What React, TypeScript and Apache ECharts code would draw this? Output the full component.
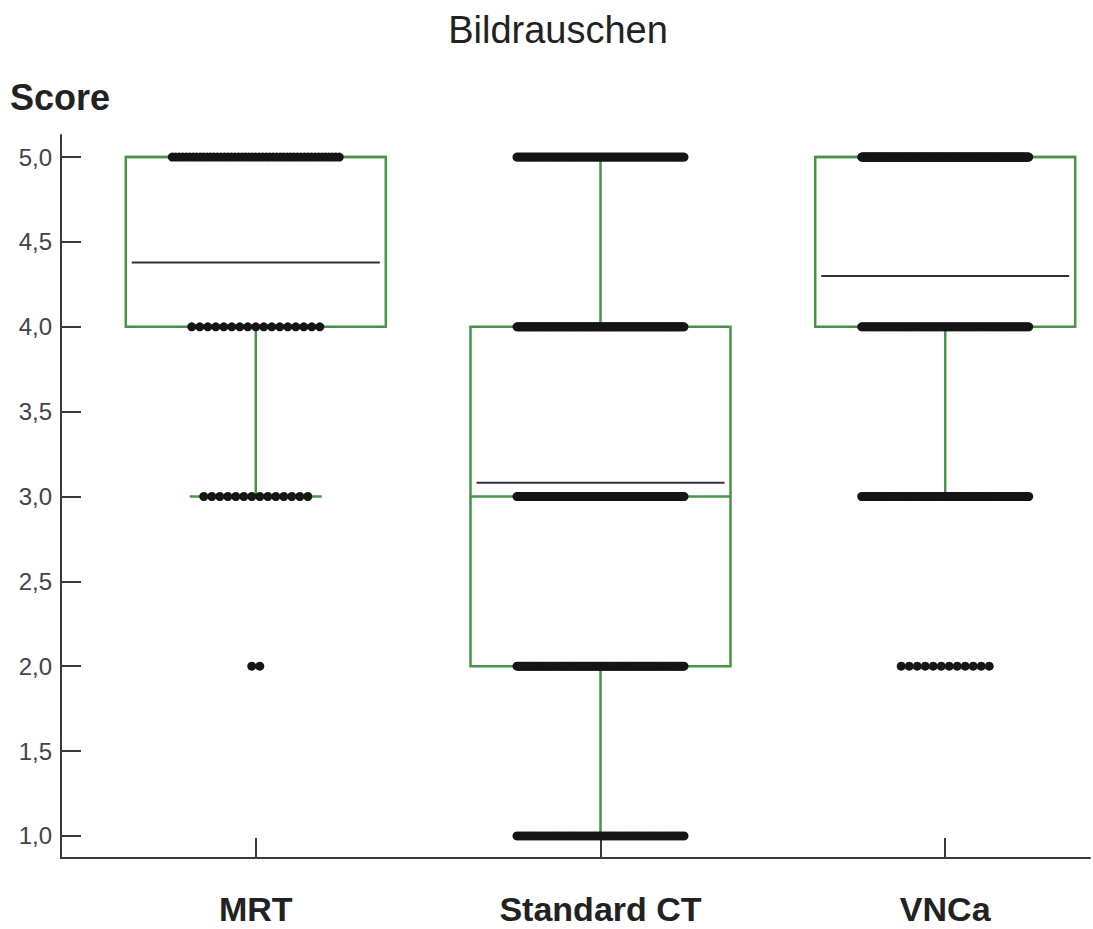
import React, { useEffect, useRef } from "react";
import * as echarts from "echarts";

// ---- data ----
const groups = ["MRT", "Standard CT", "VNCa"];
const scores = [1, 2, 3, 4, 5];
// number of ratings per score (1..5) for each group
const mrtCounts = [0, 2, 14, 17, 49];
const stdCtCounts = [72, 132, 120, 135, 93];
const vncaCounts = [0, 12, 90, 100, 249];
const yTicks = [1, 1.5, 2, 2.5, 3, 3.5, 4, 4.5, 5];
const chartTitle = "Bildrauschen";
const yTitle = "Score";

const allCounts = [mrtCounts, stdCtCounts, vncaCounts];

function expand(counts: number[]): number[] {
  const arr: number[] = [];
  counts.forEach((c, i) => {
    for (let k = 0; k < c; k++) arr.push(scores[i]);
  });
  return arr;
}
function quantile(sorted: number[], p: number): number {
  const pos = (sorted.length - 1) * p;
  const lo = Math.floor(pos);
  const hi = Math.ceil(pos);
  return sorted[lo] + (sorted[hi] - sorted[lo]) * (pos - lo);
}
function stats(counts: number[]) {
  const s = expand(counts);
  const q1 = quantile(s, 0.25);
  const med = quantile(s, 0.5);
  const q3 = quantile(s, 0.75);
  const iqr = q3 - q1;
  const lowF = q1 - 1.5 * iqr;
  const highF = q3 + 1.5 * iqr;
  const low = Math.min(...s.filter((v) => v >= lowF));
  const high = Math.max(...s.filter((v) => v <= highF));
  const mean = s.reduce((a, b) => a + b, 0) / s.length;
  return [low, q1, med, q3, high, mean];
}

const FONT = "'Liberation Sans', Arial, Helvetica, sans-serif";
const GREEN = "#489448";
const DARK = "#3a3a3a";

export default function App() {
  const ref = useRef<HTMLDivElement>(null);
  useEffect(() => {
    if (!ref.current) return;
    const chart = echarts.init(ref.current, undefined, { renderer: "svg" });

    const boxData = allCounts.map((c, i) => [i + 1, ...stats(c)]);
    const dotData: number[][] = [];
    allCounts.forEach((c, gi) => {
      c.forEach((n, si) => {
        if (n > 0) dotData.push([gi + 1, scores[si], n]);
      });
    });

    const BOX_HALF = 130;
    const CAP_HALF = 66;
    const MEAN_INSET = 6;
    const DOT_R = 4.5;
    const DOT_STEP = 8;
    const MAX_SPAN = 167;

    chart.setOption({
      animation: false,
      grid: { left: 61, right: 3, top: 135, bottom: 71 },
      graphic: [
        {
          type: "text",
          x: 558,
          y: 30,
          style: {
            text: chartTitle,
            font: `38px ${FONT}`,
            fill: "#222",
            textAlign: "center",
            textVerticalAlign: "middle",
          },
        },
        {
          type: "text",
          x: 10,
          y: 97,
          style: {
            text: yTitle,
            font: `bold 36px ${FONT}`,
            fill: "#222",
            textAlign: "left",
            textVerticalAlign: "middle",
          },
        },
      ],
      xAxis: {
        type: "value",
        min: 0.435,
        max: 3.42,
        splitLine: { show: false },
        axisLine: { show: true, lineStyle: { color: DARK, width: 2 } },
        axisTick: {
          show: true,
          inside: true,
          length: 20,
          customValues: [1, 2, 3],
          lineStyle: { color: DARK, width: 2 },
        },
        axisLabel: {
          customValues: [1, 2, 3],
          formatter: (v: number) => groups[Math.round(v) - 1] || "",
          fontFamily: FONT,
          fontWeight: "bold",
          fontSize: 34,
          lineHeight: 34,
          color: "#222",
          margin: 34,
        },
      },
      yAxis: {
        type: "value",
        min: 0.87,
        max: 5.13,
        splitLine: { show: false },
        axisLine: { show: true, lineStyle: { color: DARK, width: 2 } },
        axisTick: {
          show: true,
          inside: true,
          length: 20,
          customValues: yTicks,
          lineStyle: { color: DARK, width: 2 },
        },
        axisLabel: {
          customValues: yTicks,
          formatter: (v: number) => v.toFixed(1).replace(".", ","),
          fontFamily: FONT,
          fontSize: 24,
          color: "#444",
          margin: 9,
        },
      },
      series: [
        {
          type: "custom",
          name: "box",
          z: 2,
          data: boxData,
          renderItem: (params: any, api: any) => {
            const x = api.value(0);
            const low = api.value(1);
            const q1 = api.value(2);
            const med = api.value(3);
            const q3 = api.value(4);
            const high = api.value(5);
            const mean = api.value(6);
            const pQ1 = api.coord([x, q1]);
            const pQ3 = api.coord([x, q3]);
            const pMed = api.coord([x, med]);
            const pLow = api.coord([x, low]);
            const pHigh = api.coord([x, high]);
            const pMean = api.coord([x, mean]);
            const cx = pQ1[0];
            const gs = { stroke: GREEN, lineWidth: 2.5, fill: "none" };
            return {
              type: "group",
              children: [
                {
                  type: "line",
                  shape: { x1: cx, y1: pQ1[1], x2: cx, y2: pLow[1] },
                  style: gs,
                },
                {
                  type: "line",
                  shape: { x1: cx, y1: pQ3[1], x2: cx, y2: pHigh[1] },
                  style: gs,
                },
                {
                  type: "line",
                  shape: { x1: cx - CAP_HALF, y1: pLow[1], x2: cx + CAP_HALF, y2: pLow[1] },
                  style: gs,
                },
                {
                  type: "line",
                  shape: { x1: cx - CAP_HALF, y1: pHigh[1], x2: cx + CAP_HALF, y2: pHigh[1] },
                  style: gs,
                },
                {
                  type: "rect",
                  shape: {
                    x: cx - BOX_HALF,
                    y: pQ3[1],
                    width: BOX_HALF * 2,
                    height: pQ1[1] - pQ3[1],
                  },
                  style: gs,
                },
                {
                  type: "line",
                  shape: { x1: cx - BOX_HALF, y1: pMed[1], x2: cx + BOX_HALF, y2: pMed[1] },
                  style: gs,
                },
                {
                  type: "line",
                  shape: {
                    x1: cx - BOX_HALF + MEAN_INSET,
                    y1: pMean[1],
                    x2: cx + BOX_HALF - MEAN_INSET,
                    y2: pMean[1],
                  },
                  style: { stroke: "#333", lineWidth: 2 },
                },
              ],
            };
          },
        },
        {
          type: "custom",
          name: "dots",
          z: 3,
          data: dotData,
          renderItem: (params: any, api: any) => {
            const p = api.coord([api.value(0), api.value(1)]);
            const n = api.value(2);
            const step = n > 1 ? Math.min(DOT_STEP, MAX_SPAN / (n - 1)) : 0;
            const children: any[] = [];
            for (let i = 0; i < n; i++) {
              children.push({
                type: "circle",
                shape: { cx: p[0] + (i - (n - 1) / 2) * step, cy: p[1], r: DOT_R },
                style: { fill: "#151515" },
              });
            }
            return { type: "group", children };
          },
        },
      ],
    });
    return () => chart.dispose();
  }, []);
  return (
    <div
      ref={ref}
      style={{ position: "fixed", left: 0, top: 0, width: 1093, height: 929, background: "#fff" }}
    />
  );
}
